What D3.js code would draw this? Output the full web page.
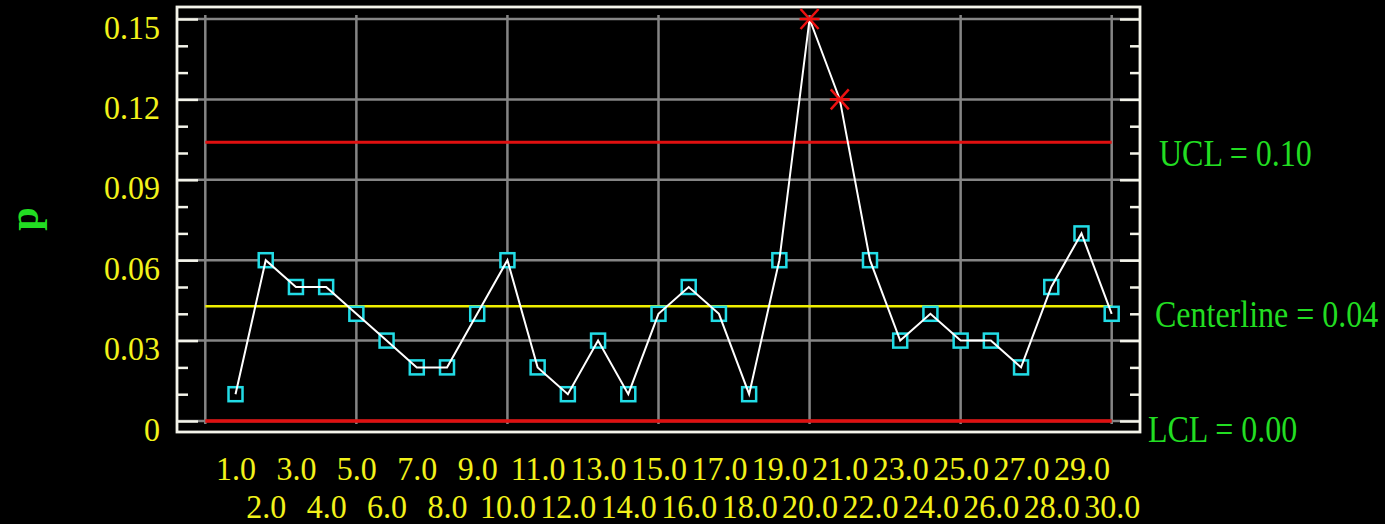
<!DOCTYPE html>
<html>
<head>
<meta charset="utf-8">
<script src="https://cdn.jsdelivr.net/npm/d3@7/dist/d3.min.js"></script>
<style>
  html, body { margin: 0; padding: 0; background: #000; }
  svg { display: block; }
</style>
</head>
<body>
<svg id="chart" width="1385" height="524"></svg>
<script>
// ---- data ----
const samples = [1,2,3,4,5,6,7,8,9,10,11,12,13,14,15,16,17,18,19,20,21,22,23,24,25,26,27,28,29,30];
const pValues = [0.01,0.06,0.05,0.05,0.04,0.03,0.02,0.02,0.04,0.06,0.02,0.01,0.03,0.01,0.04,0.05,0.04,0.01,0.06,0.15,0.12,0.06,0.03,0.04,0.03,0.03,0.02,0.05,0.07,0.04];
const yTickValues = [0, 0.03, 0.06, 0.09, 0.12, 0.15];
const yTickLabels = ["0", "0.03", "0.06", "0.09", "0.12", "0.15"];
const yMinorTicks = [0.01,0.02,0.04,0.05,0.07,0.08,0.10,0.11,0.13,0.14];
const xGridValues = [0, 5, 10, 15, 20, 25, 30];
const UCL = 0.104, CENTER = 0.0428, LCL = 0.0;
const limitLabels = ["UCL = 0.10", "Centerline = 0.04", "LCL = 0.00"];

// ---- layout ----
const svg = d3.select("#chart");
const FONT = "'Liberation Serif', 'Times New Roman', serif";
const frame = {left: 177, right: 1140, top: 7, bottom: 432};
const x = d3.scaleLinear().domain([0, 30]).range([205.3, 1111.7]);
const y = d3.scaleLinear().domain([0, 0.15]).range([421, 19]);

svg.append("rect").attr("width", 1385).attr("height", 524).attr("fill", "#000");

// horizontal gridlines
svg.append("g").selectAll("line").data(yTickValues).join("line")
  .attr("x1", frame.left + 1).attr("x2", frame.right - 1)
  .attr("y1", d => y(d)).attr("y2", d => y(d))
  .attr("stroke", "#858585").attr("stroke-width", 2.5);
// vertical gridlines
svg.append("g").selectAll("line").data(xGridValues).join("line")
  .attr("x1", d => x(d)).attr("x2", d => x(d))
  .attr("y1", 15).attr("y2", 424)
  .attr("stroke", "#858585").attr("stroke-width", 2.5);

// ticks via d3 axes
function styleTicks(g) {
  g.select(".domain").remove();
  g.selectAll(".tick line").attr("stroke", "#f4f4ea").attr("stroke-width", 2.5);
}
const leftAxis = svg.append("g").attr("transform", "translate(198,0)")
  .call(d3.axisLeft(y).tickValues(yTickValues).tickSize(20).tickPadding(18)
    .tickFormat((d, i) => yTickLabels[i]));
styleTicks(leftAxis);
leftAxis.selectAll(".tick text")
  .attr("font-family", FONT).attr("font-size", 32).attr("fill", "#f2f21a")
  .attr("dy", null).attr("y", 0)
  .attr("transform", "translate(0,19) scale(1,1.08)");
svg.append("g").attr("transform", "translate(188,0)")
  .call(d3.axisLeft(y).tickValues(yMinorTicks).tickSize(10).tickFormat(""))
  .call(styleTicks);
svg.append("g").attr("transform", "translate(1120,0)")
  .call(d3.axisRight(y).tickValues(yTickValues).tickSize(19).tickFormat(""))
  .call(styleTicks);
svg.append("g").attr("transform", "translate(1130,0)")
  .call(d3.axisRight(y).tickValues(yMinorTicks).tickSize(9).tickFormat(""))
  .call(styleTicks);

// x axis labels (two staggered rows)
const bottomAxis = svg.append("g").attr("transform", `translate(0,${frame.bottom})`)
  .call(d3.axisBottom(x).tickValues(samples).tickSize(0).tickFormat(d3.format(".1f")));
bottomAxis.select(".domain").remove();
bottomAxis.selectAll(".tick text")
  .attr("font-family", FONT).attr("font-size", 32).attr("fill", "#f2f21a")
  .attr("dy", null).attr("y", 0)
  .attr("transform", d => `translate(0,${d % 2 === 1 ? 48 : 86}) scale(1,1.08)`);

// control limit lines
const limits = [
  {v: UCL, color: "#e01010", w: 3},
  {v: CENTER, color: "#f0f000", w: 2.5},
  {v: LCL, color: "#e01010", w: 3.5}
];
svg.append("g").selectAll("line").data(limits).join("line")
  .attr("x1", x(0)).attr("x2", x(30))
  .attr("y1", d => y(d.v)).attr("y2", d => y(d.v))
  .attr("stroke", d => d.color).attr("stroke-width", d => d.w);

// frame
svg.append("rect")
  .attr("x", frame.left).attr("y", frame.top)
  .attr("width", frame.right - frame.left).attr("height", frame.bottom - frame.top)
  .attr("fill", "none").attr("stroke", "#f4f4ea").attr("stroke-width", 2.8);

const pts = samples.map((s, i) => ({s, v: pValues[i]}));

// markers: squares (in control)
svg.append("g").selectAll("rect").data(pts.filter(d => d.v <= UCL)).join("rect")
  .attr("x", d => x(d.s) - 7).attr("y", d => y(d.v) - 7)
  .attr("width", 14).attr("height", 14)
  .attr("fill", "#000").attr("stroke", "#22dce6").attr("stroke-width", 2.5);

// data line
svg.append("path").datum(pts)
  .attr("d", d3.line().x(d => x(d.s)).y(d => y(d.v)))
  .attr("fill", "none").attr("stroke", "#ffffff").attr("stroke-width", 2);

// out-of-control markers: red asterisk
const star = svg.append("g").selectAll("g").data(pts.filter(d => d.v > UCL)).join("g")
  .attr("transform", d => `translate(${x(d.s)},${y(d.v)})`);
[[-9, -10, 9, 10], [9, -10, -9, 10], [-10, 0, 10, 0]].forEach(([a, b, c, e]) => {
  star.append("line").attr("x1", a).attr("y1", b).attr("x2", c).attr("y2", e)
    .attr("stroke", "#ee1111").attr("stroke-width", 2.5);
});

// limit labels
const labelPos = [
  {t: limitLabels[0], x: 1159, y: 166},
  {t: limitLabels[1], x: 1155, y: 327},
  {t: limitLabels[2], x: 1148, y: 442}
];
svg.append("g").selectAll("text").data(labelPos).join("text")
  .attr("transform", d => `translate(${d.x},${d.y}) scale(1,1.2)`)
  .attr("font-family", FONT).attr("font-size", 32).attr("fill", "#22dd22")
  .text(d => d.t);

// y-axis title
svg.append("text")
  .attr("transform", "translate(38,219) rotate(-90)")
  .attr("text-anchor", "middle")
  .attr("font-family", FONT).attr("font-size", 42).attr("font-weight", "bold")
  .attr("fill", "#22dd22")
  .text("p");
</script>
</body>
</html>
